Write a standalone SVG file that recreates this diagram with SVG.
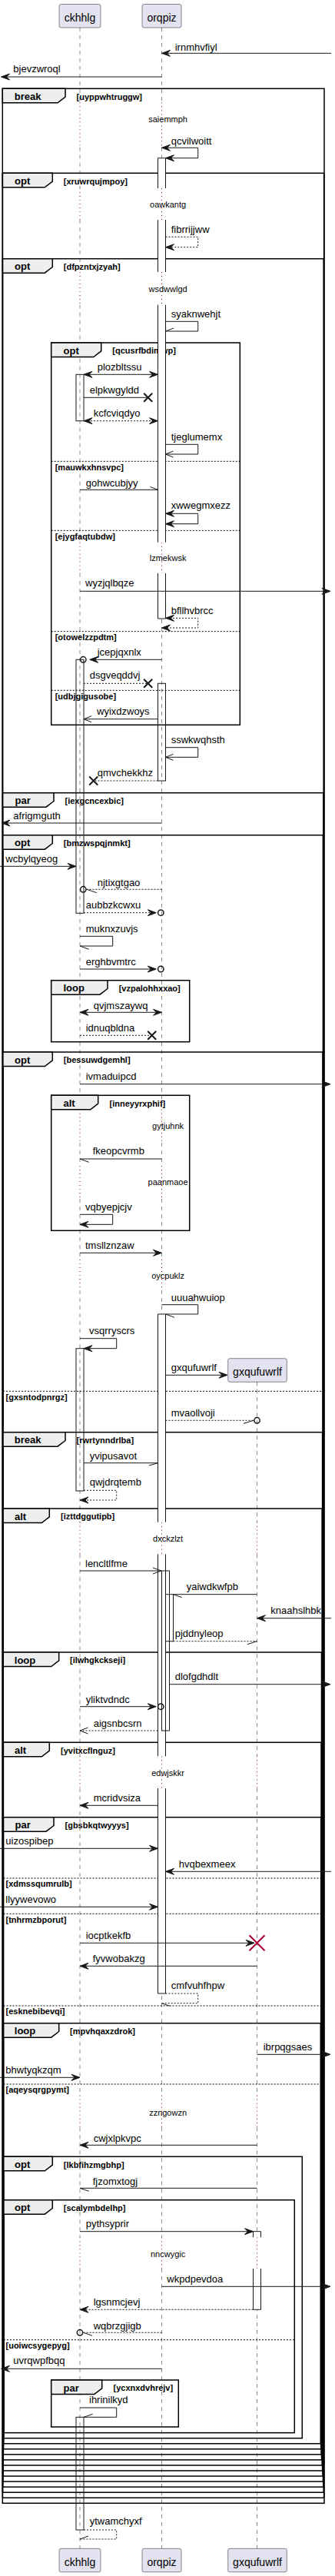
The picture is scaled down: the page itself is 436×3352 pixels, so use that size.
<svg xmlns="http://www.w3.org/2000/svg" width="436" height="3352" viewBox="0 0 436 3352">
<style>
.ll{fill:none;stroke:#181818;stroke-width:0.5;stroke-dasharray:5,5}
.dl{fill:none;stroke:#A80036;stroke-width:1;stroke-dasharray:1,4}
.m{fill:none;stroke:#181818;stroke-width:1}
.d{stroke-dasharray:2,2}
.ah{fill:#181818;stroke:#181818;stroke-width:1}
.oc{fill:none;stroke:#181818;stroke-width:1.5}
.x{stroke:#181818;stroke-width:2}
.xr{stroke:#A80036;stroke-width:2}
.fr{fill:none;stroke:#000;stroke-width:1.5}
.tab{fill:#EEEEEE;stroke:#000;stroke-width:1.5}
.sep{stroke:#000;stroke-width:1;stroke-dasharray:2,2}
.bf{fill:#fff;stroke:none}
.bs{fill:none;stroke:#181818;stroke-width:1}
.pb{fill:#E2E2F0;stroke:#181818;stroke-width:0.5}
text{font-family:"Liberation Sans",Arial,sans-serif;font-size:13px;fill:#000}
.kw{font-weight:bold;font-size:13px}
.gd{font-weight:bold;font-size:11px}
.dt{font-size:11px;text-anchor:middle}
.pn{font-size:14px;text-anchor:middle}
</style>

<g id="lifelines">
<path class="ll" d="M104,36V133.3M104,191.7V245M104,286V354M104,396.7V705.7M104,746V1443.7M104,1487V1517M104,1560V1639M104,1679V1980.7M104,2022.3V2285.3M104,2327V2726.7M104,2768.3V2911.3M104,2952V3316.3"/>
<path class="ll" d="M210.5,36V133.3M210.5,191.7V245M210.5,286V354M210.5,396.7V705.7M210.5,746V1443.7M210.5,1487V1517M210.5,1560V1639M210.5,1679V1980.7M210.5,2022.3V2285.3M210.5,2327V2726.7M210.5,2768.3V2911.3M210.5,2952V3316.3"/>
<path class="ll" d="M334.5,1798.3V1980.7M334.5,2022.3V2285.3M334.5,2327V2726.7M334.5,2768.3V2911.3M334.5,2952V3316.3"/>
<path class="dl" d="M104,133.3V191.7M104,245V286M104,354V396.7M104,705.7V746M104,1443.7V1487M104,1517V1560M104,1639V1679M104,1980.7V2022.3M104,2285.3V2327M104,2726.7V2768.3M104,2911.3V2952"/>
<path class="dl" d="M210.5,133.3V191.7M210.5,245V286M210.5,354V396.7M210.5,705.7V746M210.5,1443.7V1487M210.5,1517V1560M210.5,1639V1679M210.5,1980.7V2022.3M210.5,2285.3V2327M210.5,2726.7V2768.3M210.5,2911.3V2952"/>
<path class="dl" d="M334.5,1980.7V2022.3M334.5,2285.3V2327M334.5,2726.7V2768.3M334.5,2911.3V2952"/>
</g>

<g id="delays">
<text class="dt" x="218.6" y="159.4">saiemmph</text>
<text class="dt" x="218.6" y="270.4">oawkantg</text>
<text class="dt" x="218.6" y="380.4">wsdwwlgd</text>
<text class="dt" x="218.6" y="730.4">lzmekwsk</text>
<text class="dt" x="218.6" y="1469.4">gytjuhnk</text>
<text class="dt" x="218.6" y="1542.4">paanmaoe</text>
<text class="dt" x="218.6" y="1664">oycpuklz</text>
<text class="dt" x="218.6" y="2006">dxckzlzt</text>
<text class="dt" x="218.6" y="2310.7">edwjskkr</text>
<text class="dt" x="218.6" y="2753">zzngowzn</text>
<text class="dt" x="218.6" y="2936.7">nncwygic</text>
</g>

<g id="frame-1-break">
<rect class="fr" x="3.3" y="115.3" width="418.7" height="3142"/>
<polygon class="tab" points="3.3,115.3 85,115.3 85,126.1 75,133.8 3.3,133.8"/>
<text class="kw" x="18.8" y="129.8">break</text>
<text class="gd" x="99.5" y="129.5">[uyppwhtruggw]</text>
</g>
<g id="frame-2-opt">
<rect class="fr" x="3.42" y="225.3" width="418.18" height="3024.95"/>
<polygon class="tab" points="3.42,225.3 68.3,225.3 68.3,236.1 58.3,243.8 3.42,243.8"/>
<text class="kw" x="19" y="239.8">opt</text>
<text class="gd" x="82.8" y="239.6">[xruwrqujmpoy]</text>
</g>
<g id="frame-3-opt">
<rect class="fr" x="3.54" y="336.7" width="417.66" height="2906.5"/>
<polygon class="tab" points="3.54,336.7 68.3,336.7 68.3,347.5 58.3,355.2 3.54,355.2"/>
<text class="kw" x="19" y="351.2">opt</text>
<text class="gd" x="82.8" y="351">[dfpzntxjzyah]</text>
</g>
<g id="frame-3a-opt">
<rect class="fr" x="66.7" y="446" width="245.6" height="497.3"/>
<polygon class="tab" points="66.7,446 131.7,446 131.7,456.8 121.7,464.5 66.7,464.5"/>
<text class="kw" x="82.5" y="460.5">opt</text>
<text class="gd" x="146.3" y="460.3">[qcusrfbdimwp]</text>
<line class="sep" x1="66.7" y1="600.3" x2="312.3" y2="600.3"/>
<text class="gd" x="71.7" y="611.7">[mauwkxhnsvpc]</text>
<line class="sep" x1="66.7" y1="690.3" x2="312.3" y2="690.3"/>
<text class="gd" x="71.7" y="701.7">[ejygfaqtubdw]</text>
<line class="sep" x1="66.7" y1="821.7" x2="312.3" y2="821.7"/>
<text class="gd" x="71.7" y="833.1">[otowelzzpdtm]</text>
<line class="sep" x1="66.7" y1="898.3" x2="312.3" y2="898.3"/>
<text class="gd" x="71.7" y="909.7">[udbjgigusobe]</text>
</g>
<g id="frame-4-par">
<rect class="fr" x="3.66" y="1031.7" width="417.14" height="2204.45"/>
<polygon class="tab" points="3.66,1031.7 70,1031.7 70,1042.5 60,1050.2 3.66,1050.2"/>
<text class="kw" x="19.5" y="1046.2">par</text>
<text class="gd" x="84.5" y="1046">[iexgcncexbic]</text>
</g>
<g id="frame-5-opt">
<rect class="fr" x="3.78" y="1086.7" width="416.62" height="2142.4"/>
<polygon class="tab" points="3.78,1086.7 68.3,1086.7 68.3,1097.5 58.3,1105.2 3.78,1105.2"/>
<text class="kw" x="19" y="1101.2">opt</text>
<text class="gd" x="82.8" y="1101">[bmzwspqjnmkt]</text>
</g>
<g id="frame-5a-loop">
<rect class="fr" x="66.7" y="1275.7" width="180" height="80"/>
<polygon class="tab" points="66.7,1275.7 140,1275.7 140,1286.5 130,1294.2 66.7,1294.2"/>
<text class="kw" x="82.5" y="1290.2">loop</text>
<text class="gd" x="154.7" y="1290">[vzpalohhxxao]</text>
</g>
<g id="frame-6-opt">
<rect class="fr" x="3.9" y="1369" width="416.1" height="1853.05"/>
<polygon class="tab" points="3.9,1369 68.3,1369 68.3,1379.8 58.3,1387.5 3.9,1387.5"/>
<text class="kw" x="19" y="1383.5">opt</text>
<text class="gd" x="82.8" y="1383.3">[bessuwdgemhl]</text>
<line class="sep" x1="3.9" y1="1810.3" x2="420" y2="1810.3"/>
<text class="gd" x="7.5" y="1821.7">[gxsntodpnrgz]</text>
</g>
<g id="frame-6a-alt">
<rect class="fr" x="66.7" y="1425.3" width="180" height="176"/>
<polygon class="tab" points="66.7,1425.3 127.7,1425.3 127.7,1436.1 117.7,1443.8 66.7,1443.8"/>
<text class="kw" x="82.5" y="1439.8">alt</text>
<text class="gd" x="142.5" y="1439.6">[inneyyrxphif]</text>
</g>
<g id="frame-7-break">
<rect class="fr" x="4.02" y="1863.7" width="415.58" height="1351.3"/>
<polygon class="tab" points="4.02,1863.7 85,1863.7 85,1874.5 75,1882.2 4.02,1882.2"/>
<text class="kw" x="18.8" y="1878.2">break</text>
<text class="gd" x="99.5" y="1878">[rwrtynndrlba]</text>
</g>
<g id="frame-8-alt">
<rect class="fr" x="4.14" y="1963" width="415.06" height="1244.95"/>
<polygon class="tab" points="4.14,1963 64.3,1963 64.3,1973.8 54.3,1981.5 4.14,1981.5"/>
<text class="kw" x="19" y="1977.5">alt</text>
<text class="gd" x="79" y="1977.3">[izttdggutipb]</text>
</g>
<g id="frame-9-loop">
<rect class="fr" x="4.26" y="2150" width="414.24" height="1050.9"/>
<polygon class="tab" points="4.26,2150 76.7,2150 76.7,2160.8 66.7,2168.5 4.26,2168.5"/>
<text class="kw" x="18.8" y="2164.5">loop</text>
<text class="gd" x="91" y="2164.3">[ilwhgkckseji]</text>
</g>
<g id="frame-10-alt">
<rect class="fr" x="4.38" y="2267.3" width="413.72" height="926.55"/>
<polygon class="tab" points="4.38,2267.3 64.3,2267.3 64.3,2278.1 54.3,2285.8 4.38,2285.8"/>
<text class="kw" x="19" y="2281.8">alt</text>
<text class="gd" x="79" y="2281.6">[yvitxcflnguz]</text>
</g>
<g id="frame-11-par">
<rect class="fr" x="4.5" y="2364.7" width="413.2" height="822.1"/>
<polygon class="tab" points="4.5,2364.7 70,2364.7 70,2375.5 60,2383.2 4.5,2383.2"/>
<text class="kw" x="19.5" y="2379.2">par</text>
<text class="gd" x="84.5" y="2379">[gbsbkqtwyyys]</text>
<line class="sep" x1="4.5" y1="2444" x2="417.7" y2="2444"/>
<text class="gd" x="7.5" y="2455.4">[xdmssqumrulb]</text>
<line class="sep" x1="4.5" y1="2490.3" x2="417.7" y2="2490.3"/>
<text class="gd" x="7.5" y="2501.7">[tnhrmzbporut]</text>
<line class="sep" x1="4.5" y1="2610" x2="417.7" y2="2610"/>
<text class="gd" x="7.5" y="2621.4">[esknebibevqi]</text>
</g>
<g id="frame-12-loop">
<rect class="fr" x="4.62" y="2632.7" width="412.68" height="547.05"/>
<polygon class="tab" points="4.62,2632.7 76.7,2632.7 76.7,2643.5 66.7,2651.2 4.62,2651.2"/>
<text class="kw" x="18.8" y="2647.2">loop</text>
<text class="gd" x="91" y="2647">[mpvhqaxzdrok]</text>
<line class="sep" x1="4.62" y1="2712" x2="417.3" y2="2712"/>
<text class="gd" x="7.5" y="2723.4">[aqeysqrgpymt]</text>
</g>
<g id="frame-13-opt">
<rect class="fr" x="4.74" y="2806.3" width="388.56" height="366.4"/>
<polygon class="tab" points="4.74,2806.3 68.3,2806.3 68.3,2817.1 58.3,2824.8 4.74,2824.8"/>
<text class="kw" x="19" y="2820.8">opt</text>
<text class="gd" x="82.8" y="2820.6">[lkbfihzmgbhp]</text>
</g>
<g id="frame-14-opt">
<rect class="fr" x="4.86" y="2862.7" width="378.44" height="302.95"/>
<polygon class="tab" points="4.86,2862.7 68.3,2862.7 68.3,2873.5 58.3,2881.2 4.86,2881.2"/>
<text class="kw" x="19" y="2877.2">opt</text>
<text class="gd" x="82.8" y="2877">[scalymbdelhp]</text>
<line class="sep" x1="4.86" y1="3044.7" x2="383.3" y2="3044.7"/>
<text class="gd" x="7.5" y="3056.1">[uoiwcsygepyg]</text>
</g>
<g id="frame-14a-par">
<rect class="fr" x="66.7" y="3097" width="165.6" height="61"/>
<polygon class="tab" points="66.7,3097 132.7,3097 132.7,3107.8 122.7,3115.5 66.7,3115.5"/>
<text class="kw" x="82.5" y="3111.5">par</text>
<text class="gd" x="147.5" y="3111.3">[ycxnxdvhrejv]</text>
</g>

<g id="activations">
<rect class="bf" x="205.5" y="205.7" width="10" height="39.3"/><path class="bs" d="M205.5,245V205.7H215.5V245"/>
<rect class="bf" x="205.5" y="286" width="10" height="68"/><path class="bs" d="M205.5,286V354M215.5,286V354"/>
<rect class="bf" x="205.5" y="396.7" width="10" height="309"/><path class="bs" d="M205.5,396.7V705.7M215.5,396.7V705.7"/>
<rect class="bf" x="205.5" y="746" width="10" height="59"/><path class="bs" d="M205.5,746V805H215.5V746"/>
<rect class="bs" fill="#fff" x="99" y="487.3" width="10" height="60.4"/>
<rect class="bs" fill="#fff" x="99" y="858.3" width="10" height="330"/>
<rect class="bs" fill="#fff" x="205.5" y="889.3" width="10" height="126.7"/>
<rect class="bf" x="205.5" y="1710" width="10" height="270.7"/><path class="bs" d="M205.5,1980.7V1710H215.5V1980.7"/>
<rect class="bf" x="205.5" y="2022.3" width="10" height="263"/><path class="bs" d="M205.5,2022.3V2285.3M215.5,2022.3V2285.3"/>
<rect class="bf" x="205.5" y="2327" width="10" height="267"/><path class="bs" d="M205.5,2327V2594H215.5V2327"/>
<rect class="bs" fill="#fff" x="99" y="1754.7" width="10" height="185.3"/>
<rect class="bs" fill="#fff" x="210.5" y="2044" width="10" height="208"/>
<rect class="bs" fill="#fff" x="215.5" y="2074.7" width="10" height="61"/>
<rect class="bf" x="329.5" y="2903.7" width="10" height="7.6"/><path class="bs" d="M329.5,2911.3V2903.7H339.5V2911.3"/>
<rect class="bf" x="329.5" y="2952" width="10" height="53.3"/><path class="bs" d="M329.5,2952V3005.3H339.5V2952"/>
<rect class="bs" fill="#fff" x="99" y="3145.3" width="10" height="146.7"/>
</g>

<g id="connectors">
<line class="m" x1="431" y1="69.3" x2="212" y2="69.3"/><polygon class="ah" points="210.5,69.3 221.5,65.3 217.5,69.3 221.5,73.3"/>
<text x="227.7" y="65.7">irnmhvfiyl</text>
<line class="m" x1="210.5" y1="100" x2="3" y2="100"/><polygon class="ah" points="1.5,100 12.5,96 8.5,100 12.5,104"/>
<text x="17.3" y="94.3">bjevzwroql</text>
<path class="m" d="M210.5,192.3H257.7V205.7H217"/><polygon class="ah" points="210.5,192.3 221.5,188.3 217.5,192.3 221.5,196.3"/><polygon class="ah" points="215.5,205.7 226.5,201.7 222.5,205.7 226.5,209.7"/>
<text x="222.7" y="187.7">qcvilwoitt</text>
<path class="m d" d="M215.5,308.3H257.7V321.7H217"/><polygon class="ah" points="215.5,321.7 226.5,317.7 222.5,321.7 226.5,325.7"/>
<text x="222.7" y="303.3">fibrrijjww</text>
<path class="m" d="M215.5,418.3H257.7V431H215.5"/><line class="m" x1="215.5" y1="431" x2="226" y2="427"/>
<text x="222.7" y="413.3">syaknwehjt</text>
<line class="m" x1="110" y1="487.3" x2="204" y2="487.3"/><polygon class="ah" points="109,487.3 120,483.3 116,487.3 120,491.3"/><polygon class="ah" points="205.5,487.3 194.5,483.3 198.5,487.3 194.5,491.3"/>
<text x="126.7" y="481.7">plozbltssu</text>
<line class="m" x1="109" y1="517.3" x2="192.7" y2="517.3"/><path class="x" d="M187.2,511.8L198.2,522.8M187.2,522.8L198.2,511.8"/>
<text x="116.7" y="512.3">elpkwgyldd</text>
<line class="m d" x1="110" y1="547.7" x2="204" y2="547.7"/><polygon class="ah" points="109,547.7 120,543.7 116,547.7 120,551.7"/><polygon class="ah" points="205.5,547.7 194.5,543.7 198.5,547.7 194.5,551.7"/>
<text x="121.7" y="541.7">kcfcviqdyo</text>
<path class="m" d="M215.5,578.3H257.7V591H215.5"/><polyline class="m" points="225.5,587 215.5,591 225.5,595"/>
<text x="222.7" y="573.3">tjeglumemx</text>
<line class="m" x1="104" y1="637.3" x2="205.5" y2="637.3"/><line class="m" x1="205.5" y1="637.3" x2="195.5" y2="633.5"/>
<text x="111.7" y="632.7">gohwcubjyy</text>
<path class="m" d="M217,668.3H257.7V681.7H217"/><polygon class="ah" points="215.5,668.3 226.5,664.3 222.5,668.3 226.5,672.3"/><polygon class="ah" points="215.5,681.7 226.5,677.7 222.5,681.7 226.5,685.7"/>
<text x="222.7" y="662.3">xwwegmxezz</text>
<line class="m" x1="104" y1="769.3" x2="428" y2="769.3"/><polygon class="ah" points="430,769.3 419,765.3 423,769.3 419,773.3"/>
<text x="111" y="763.3">wyzjqlbqze</text>
<path class="m d" d="M217,804.3H257.7V817H212"/><polygon class="ah" points="215.5,804.3 226.5,800.3 222.5,804.3 226.5,808.3"/><polygon class="ah" points="210.5,817 221.5,813 217.5,817 221.5,821"/>
<text x="222.7" y="799.3">bfllhvbrcc</text>
<line class="m" x1="210.5" y1="858.3" x2="118" y2="858.3"/><polygon class="ah" points="116.7,858.3 127.7,854.3 123.7,858.3 127.7,862.3"/><circle class="oc" cx="108.3" cy="858.3" r="3.7"/>
<text x="126.7" y="853.3">jcepjqxnlx</text>
<line class="m d" x1="109" y1="889.3" x2="192.7" y2="889.3"/><path class="x" d="M187.2,883.8L198.2,894.8M187.2,894.8L198.2,883.8"/>
<text x="116.7" y="883.3">dsgveqddvj</text>
<line class="m" x1="205.5" y1="935.7" x2="109" y2="935.7"/><polyline class="m" points="119,931.7 109,935.7 119,939.7"/>
<text x="126" y="930">wyixdzwoys</text>
<path class="m" d="M215.5,972.7H257.7V985.3H215.5"/><polyline class="m" points="225.5,981.3 215.5,985.3 225.5,989.3"/>
<text x="222.7" y="967.3">sswkwqhsth</text>
<line class="m d" x1="205.5" y1="1016" x2="121.7" y2="1016"/><path class="x" d="M116.2,1010.5L127.2,1021.5M116.2,1021.5L127.2,1010.5"/>
<text x="126.7" y="1010">qmvchekkhz</text>
<line class="m" x1="210.5" y1="1071" x2="3.5" y2="1071"/><polygon class="ah" points="2,1071 13,1067 9,1071 13,1075"/>
<text x="17.3" y="1066">afrigmguth</text>
<line class="m" x1="0" y1="1127.3" x2="97.5" y2="1127.3"/><polygon class="ah" points="99,1127.3 88,1123.3 92,1127.3 88,1131.3"/>
<text x="7.3" y="1122">wcbylqyeog</text>
<line class="m d" x1="210.5" y1="1157.3" x2="112" y2="1157.3"/><circle class="oc" cx="108.3" cy="1157.3" r="3.7"/><line class="m" x1="113" y1="1157.3" x2="125.7" y2="1161.7"/>
<text x="126.7" y="1152.7">njtixgtgao</text>
<line class="m d" x1="109" y1="1187.7" x2="202" y2="1187.7"/><polygon class="ah" points="203.3,1187.7 192.3,1183.7 196.3,1187.7 192.3,1191.7"/><circle class="oc" cx="209.3" cy="1187.7" r="3.7"/>
<text x="111.7" y="1181.7">aubbzkcwxu</text>
<path class="m" d="M104,1218.3H146.7V1231H104"/><line class="m" x1="104" y1="1231" x2="115.7" y2="1235.3"/>
<text x="111.7" y="1213.3">muknxzuvjs</text>
<line class="m" x1="104" y1="1261" x2="202" y2="1261"/><polygon class="ah" points="203.3,1261 192.3,1257 196.3,1261 192.3,1265"/><circle class="oc" cx="209.3" cy="1261" r="3.7"/>
<text x="111.7" y="1256">erghbvmtrc</text>
<line class="m" x1="105" y1="1317.3" x2="209" y2="1317.3"/><polygon class="ah" points="104,1317.3 115,1313.3 111,1317.3 115,1321.3"/><polygon class="ah" points="210.5,1317.3 199.5,1313.3 203.5,1317.3 199.5,1321.3"/>
<text x="121.7" y="1312.7">qvjmszaywq</text>
<line class="m d" x1="104" y1="1347.3" x2="197.7" y2="1347.3"/><path class="x" d="M192.2,1341.8L203.2,1352.8M192.2,1352.8L203.2,1341.8"/>
<text x="111.7" y="1342.3">idnuqbldna</text>
<line class="m" x1="104" y1="1410.7" x2="428" y2="1410.7"/><polygon class="ah" points="430,1410.7 419,1406.7 423,1410.7 419,1414.7"/>
<text x="111.7" y="1404.7">ivmaduipcd</text>
<line class="m" x1="210.5" y1="1508" x2="104" y2="1508"/><line class="m" x1="104" y1="1508" x2="115.7" y2="1512.3"/>
<text x="120.7" y="1502.3">fkeopcvrmb</text>
<path class="m" d="M104,1580.3H146.7V1593.3H105"/><polygon class="ah" points="104,1593.3 115,1589.3 111,1593.3 115,1597.3"/>
<text x="111" y="1574.7">vqbyepjcjv</text>
<line class="m" x1="104" y1="1630.3" x2="209" y2="1630.3"/><polygon class="ah" points="210.5,1630.3 199.5,1626.3 203.5,1630.3 199.5,1634.3"/>
<text x="111" y="1625.3">tmsllznzaw</text>
<path class="m" d="M210.5,1697.7H257.7V1710H215.5"/><line class="m" x1="215.5" y1="1710" x2="227" y2="1714.3"/>
<text x="222.7" y="1692.7">uuuahwuiop</text>
<path class="m" d="M104,1741.7H151.7V1754.7H110"/><polygon class="ah" points="109,1754.7 120,1750.7 116,1754.7 120,1758.7"/>
<text x="116" y="1736">vsqrryscrs</text>
<line class="m" x1="215.5" y1="1789.3" x2="294.5" y2="1789.3"/><polygon class="ah" points="296,1789.3 285,1785.3 289,1789.3 285,1793.3"/>
<text x="222.7" y="1784.3">gxqufuwrlf</text>
<line class="m d" x1="215.5" y1="1848.3" x2="330.5" y2="1848.3"/><line class="m" x1="330" y1="1848.3" x2="317" y2="1852.3"/><circle class="oc" cx="334.5" cy="1848.3" r="3.7"/>
<text x="222.7" y="1842.7">mvaollvoji</text>
<line class="m" x1="109" y1="1903.7" x2="205.5" y2="1903.7"/><line class="m" x1="205.5" y1="1903.7" x2="194" y2="1907"/>
<text x="116.7" y="1898.7">yvipusavot</text>
<path class="m d" d="M109,1939.3H151.7V1952H105"/><polygon class="ah" points="104,1952 115,1948 111,1952 115,1956"/>
<text x="116.7" y="1933.3">qwjdrqtemb</text>
<line class="m" x1="104" y1="2044" x2="210" y2="2044"/><polyline class="m" points="199,2040 210,2044 199,2048"/>
<text x="111" y="2039">lencltlfme</text>
<line class="m" x1="334.5" y1="2074.7" x2="225.5" y2="2074.7"/><line class="m" x1="225.5" y1="2074.7" x2="236.7" y2="2078.7"/>
<text x="242.7" y="2069">yaiwdkwfpb</text>
<line class="m" x1="431" y1="2105.7" x2="336" y2="2105.7"/><polygon class="ah" points="334.5,2105.7 345.5,2101.7 341.5,2105.7 345.5,2109.7"/>
<text x="352.3" y="2099.7">knaahslhbk</text>
<line class="m d" x1="225.5" y1="2135.7" x2="334.5" y2="2135.7"/><line class="m" x1="334" y1="2135.7" x2="322" y2="2139.7"/>
<text x="227.7" y="2130">pjddnyleop</text>
<line class="m" x1="220.5" y1="2191.7" x2="428" y2="2191.7"/><polygon class="ah" points="430,2191.7 419,2187.7 423,2191.7 419,2195.7"/>
<text x="227.7" y="2186.3">dlofgdhdlt</text>
<line class="m" x1="104" y1="2220.7" x2="202" y2="2220.7"/><polygon class="ah" points="203.3,2220.7 192.3,2216.7 196.3,2220.7 192.3,2224.7"/><circle class="oc" cx="209.3" cy="2220.7" r="3.7"/>
<text x="111.7" y="2215.7">yliktvdndc</text>
<line class="m d" x1="205.5" y1="2252" x2="104" y2="2252"/><polyline class="m" points="114.5,2248 104,2252 114.5,2256"/>
<text x="121.7" y="2247">aigsnbcsrn</text>
<line class="m" x1="205.5" y1="2349.3" x2="105" y2="2349.3"/><polygon class="ah" points="104,2349.3 115,2345.3 111,2349.3 115,2353.3"/>
<text x="121.7" y="2344.3">mcridvsiza</text>
<line class="m" x1="0" y1="2405.3" x2="204" y2="2405.3"/><polygon class="ah" points="205.5,2405.3 194.5,2401.3 198.5,2405.3 194.5,2409.3"/>
<text x="7.3" y="2399.7">uizospibep</text>
<line class="m" x1="431" y1="2435.3" x2="217" y2="2435.3"/><polygon class="ah" points="215.5,2435.3 226.5,2431.3 222.5,2435.3 226.5,2439.3"/>
<text x="232.7" y="2430.3">hvqbexmeex</text>
<line class="m" x1="0" y1="2481.3" x2="204" y2="2481.3"/><polygon class="ah" points="205.5,2481.3 194.5,2477.3 198.5,2481.3 194.5,2485.3"/>
<text x="7.3" y="2476.3">llyywevowo</text>
<line class="m" x1="104" y1="2528.3" x2="329.5" y2="2528.3"/><polygon class="ah" points="331,2528.3 320,2524.3 324,2528.3 320,2532.3"/><path class="xr" d="M324.5,2518.3L344.5,2538.3M324.5,2538.3L344.5,2518.3"/>
<text x="111.7" y="2522.7">iocptkekfb</text>
<line class="m" x1="334.5" y1="2558.3" x2="105" y2="2558.3"/><polygon class="ah" points="104,2558.3 115,2554.3 111,2558.3 115,2562.3"/>
<text x="120.7" y="2553.3">fyvwobakzg</text>
<path class="m d" d="M215.5,2594H257.7V2606.7H210.5"/><line class="m" x1="210.5" y1="2606.7" x2="221" y2="2610.3"/>
<text x="222.7" y="2588.3">cmfvuhfhpw</text>
<line class="m" x1="334.5" y1="2673.3" x2="428" y2="2673.3"/><polygon class="ah" points="430,2673.3 419,2669.3 423,2673.3 419,2677.3"/>
<text x="342.7" y="2667.7">ibrpqgsaes</text>
<line class="m" x1="0" y1="2703.3" x2="102.5" y2="2703.3"/><polygon class="ah" points="104,2703.3 93,2699.3 97,2703.3 93,2707.3"/>
<text x="7.3" y="2698.3">bhwtyqkzqm</text>
<line class="m" x1="334.5" y1="2791.3" x2="105" y2="2791.3"/><polygon class="ah" points="104,2791.3 115,2787.3 111,2791.3 115,2795.3"/>
<text x="121.7" y="2786.7">cwjxlpkvpc</text>
<line class="m" x1="334.5" y1="2847.3" x2="104" y2="2847.3"/><line class="m" x1="104" y1="2847.3" x2="115.7" y2="2851.3"/>
<text x="120.7" y="2843">fjzomxtogj</text>
<line class="m" x1="104" y1="2903.7" x2="328" y2="2903.7"/><polygon class="ah" points="329.5,2903.7 318.5,2899.7 322.5,2903.7 318.5,2907.7"/>
<text x="111.7" y="2898">pythsyprir</text>
<line class="m" x1="210.5" y1="2975.3" x2="428" y2="2975.3"/><polygon class="ah" points="430,2975.3 419,2971.3 423,2975.3 419,2979.3"/>
<text x="217.3" y="2969.7">wkpdpevdoa</text>
<line class="m d" x1="329.5" y1="3005.3" x2="105" y2="3005.3"/><polygon class="ah" points="104,3005.3 115,3001.3 111,3005.3 115,3009.3"/>
<text x="121.7" y="3000">lgsnmcjevj</text>
<line class="m d" x1="210.5" y1="3035.3" x2="108" y2="3035.3"/><circle class="oc" cx="104" cy="3035.3" r="3.7"/><line class="m" x1="108.5" y1="3035.3" x2="120" y2="3039.3"/>
<text x="121.7" y="3030.7">wqbrzgjigb</text>
<line class="m" x1="210.5" y1="3082.3" x2="3" y2="3082.3"/><polygon class="ah" points="1.5,3082.3 12.5,3078.3 8.5,3082.3 12.5,3086.3"/>
<text x="17.3" y="3076.3">uvrqwpfbqq</text>
<path class="m" d="M104,3133H151.7V3145.3H109"/><line class="m" x1="109" y1="3145.3" x2="120.7" y2="3141.3"/>
<text x="116" y="3127.3">ihrinilkyd</text>
<path class="m d" d="M109,3292H151.7V3304H104"/><line class="m" x1="104" y1="3304" x2="115" y2="3300"/>
<text x="116.7" y="3285.3">ytwamchyxf</text>
</g>

<g id="participant-ckhhlg">
<rect class="pb" x="77" y="5.5" width="54" height="30.5" rx="2.5"/><text class="pn" x="104" y="27.5">ckhhlg</text>
<rect class="pb" x="77" y="3316.3" width="54" height="30.5" rx="2.5"/><text class="pn" x="104" y="3338.5">ckhhlg</text>
</g>
<g id="participant-orqpiz">
<rect class="pb" x="185" y="5.5" width="51" height="30.5" rx="2.5"/><text class="pn" x="210.5" y="27.5">orqpiz</text>
<rect class="pb" x="185" y="3316.3" width="51" height="30.5" rx="2.5"/><text class="pn" x="210.5" y="3338.5">orqpiz</text>
</g>
<g id="participant-gxqufuwrlf">
<rect class="pb" x="296.7" y="1767.7" width="76.6" height="30.6" rx="2.5"/><text class="pn" x="335" y="1789.5">gxqufuwrlf</text>
<rect class="pb" x="296.7" y="3316.3" width="76.6" height="30.5" rx="2.5"/><text class="pn" x="335" y="3338.5">gxqufuwrlf</text>
</g>
</svg>
